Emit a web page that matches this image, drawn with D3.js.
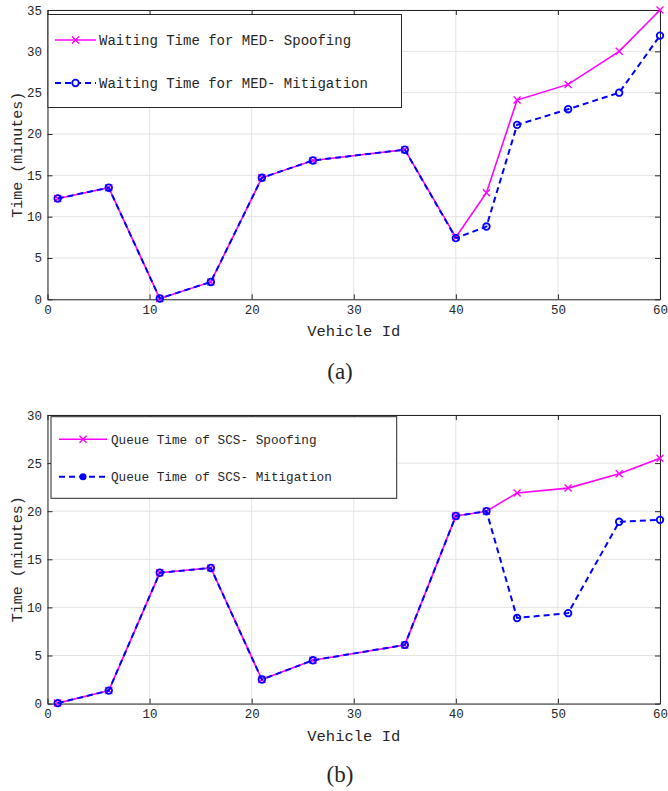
<!DOCTYPE html>
<html>
<head>
<meta charset="utf-8">
<script src="https://cdn.jsdelivr.net/npm/d3@7"></script>
<style>
  body { margin: 0; background: #fff; }
  text { font-family: "Liberation Mono", "DejaVu Sans Mono", monospace; fill: #262626; }
</style>
</head>
<body>
<div id="chart"></div>
<script>
// vehicle ids (shared x values)
const vehicleIds = [1, 6, 11, 16, 21, 26, 35, 40, 43, 46, 51, 56, 60];

// panel (a) waiting time
const waitSpoofing   = [12.2, 13.5, 0.1, 2.1, 14.7, 16.8, 18.1, 7.5, 12.9, 24.1, 26.0, 30.0, 35.0];
const waitMitigation = [12.2, 13.5, 0.1, 2.1, 14.7, 16.8, 18.1, 7.4, 8.8, 21.1, 23.0, 25.0, 31.9];

// panel (b) queue time
const queueSpoofing   = [0.05, 1.35, 13.6, 14.1, 2.5, 4.5, 6.1, 19.5, 20.0, 21.9, 22.4, 23.9, 25.5];
const queueMitigation = [0.05, 1.35, 13.6, 14.1, 2.5, 4.5, 6.1, 19.5, 20.0, 8.9, 9.4, 18.9, 19.1];

const xTicks = [0, 10, 20, 30, 40, 50, 60];
const yTicksA = [0, 5, 10, 15, 20, 25, 30, 35];
const yTicksB = [0, 5, 10, 15, 20, 25, 30];

const svg = d3.select("#chart").append("svg")
    .attr("width", 668)
    .attr("height", 791);

function panel(opt) {
    const x = d3.scaleLinear().domain([0, 60]).range([47.5, 660]);
    const y = d3.scaleLinear().domain([0, opt.yMax]).range([opt.bottom, opt.top]);
    const g = svg.append("g");

    // grid
    g.selectAll("line.gx").data(xTicks).enter().append("line")
        .attr("x1", d => x(d)).attr("x2", d => x(d))
        .attr("y1", opt.top).attr("y2", opt.bottom)
        .attr("stroke", "#e3e3e3").attr("stroke-width", 1);
    g.selectAll("line.gy").data(opt.yTicks).enter().append("line")
        .attr("x1", x(0)).attr("x2", x(60))
        .attr("y1", d => y(d)).attr("y2", d => y(d))
        .attr("stroke", "#e3e3e3").attr("stroke-width", 1);

    // axes (ticks pointing inward, box all round)
    const tk = -5;
    g.append("g").attr("transform", `translate(0,${opt.bottom})`)
        .call(d3.axisBottom(x).tickValues(xTicks).tickSizeInner(tk).tickSizeOuter(0).tickPadding(6));
    g.append("g").attr("transform", `translate(0,${opt.top})`)
        .call(d3.axisTop(x).tickValues(xTicks).tickSizeInner(tk).tickSizeOuter(0).tickFormat(""));
    g.append("g").attr("transform", `translate(${x(0)},0)`)
        .call(d3.axisLeft(y).tickValues(opt.yTicks).tickSizeInner(tk).tickSizeOuter(0).tickPadding(5.5));
    g.append("g").attr("transform", `translate(${x(60)},0)`)
        .call(d3.axisRight(y).tickValues(opt.yTicks).tickSizeInner(tk).tickSizeOuter(0).tickFormat(""));
    g.selectAll(".domain").attr("stroke", "#262626").attr("stroke-width", 1);
    g.selectAll(".tick line").attr("stroke", "#262626");
    g.selectAll(".tick text")
        .style("font-family", "'Liberation Mono', monospace")
        .style("font-size", "12.5px")
        .attr("fill", "#333");

    // axis labels
    g.append("text")
        .attr("x", (x(0) + x(60)) / 2).attr("y", opt.bottom + 37)
        .attr("text-anchor", "middle").style("font-size", "15.5px")
        .text("Vehicle Id");
    g.append("text")
        .attr("transform", `translate(22,${(opt.top + opt.bottom) / 2}) rotate(-90)`)
        .attr("text-anchor", "middle").style("font-size", "15px")
        .text("Time (minutes)");

    // lines
    const line = d3.line().x(d => x(d[0])).y(d => y(d[1]));
    const spoof = vehicleIds.map((v, i) => [v, opt.spoof[i]]);
    const mitig = vehicleIds.map((v, i) => [v, opt.mitig[i]]);

    g.append("path").datum(spoof).attr("d", line)
        .attr("fill", "none").attr("stroke", "#ff00ff").attr("stroke-width", 1.6);
    g.selectAll("path.xm").data(spoof).enter().append("path")
        .attr("d", "M-3.5,-3.5L3.5,3.5M-3.5,3.5L3.5,-3.5")
        .attr("transform", d => `translate(${x(d[0])},${y(d[1])})`)
        .attr("stroke", "#ff00ff").attr("stroke-width", 1.4);

    g.append("path").datum(mitig).attr("d", line)
        .attr("fill", "none").attr("stroke", "#0000ff").attr("stroke-width", 2)
        .attr("stroke-dasharray", "6,4");
    g.selectAll("circle.om").data(mitig).enter().append("circle")
        .attr("cx", d => x(d[0])).attr("cy", d => y(d[1]))
        .attr("r", 3.3)
        .attr("fill", "none").attr("stroke", "#0000ff").attr("stroke-width", 1.8);

    // legend
    const L = opt.legend;
    g.append("rect")
        .attr("x", L.x).attr("y", L.y).attr("width", L.w).attr("height", L.h)
        .attr("fill", "#fff").attr("stroke", "#262626").attr("stroke-width", 1);
    const rows = [
        { label: opt.labels[0], color: "#ff00ff", dash: null, marker: "x" },
        { label: opt.labels[1], color: "#0000ff", dash: "6,4", marker: "o" }
    ];
    rows.forEach((r, i) => {
        const ly = L.rowY[i];
        g.append("line")
            .attr("x1", L.lx1).attr("x2", L.lx2).attr("y1", ly).attr("y2", ly)
            .attr("stroke", r.color).attr("stroke-width", r.dash ? 2 : 1.6)
            .attr("stroke-dasharray", r.dash);
        const mx = (L.lx1 + L.lx2) / 2;
        if (r.marker === "x") {
            g.append("path")
                .attr("d", "M-3.5,-3.5L3.5,3.5M-3.5,3.5L3.5,-3.5")
                .attr("transform", `translate(${mx},${ly})`)
                .attr("stroke", r.color).attr("stroke-width", 1.4);
        } else {
            g.append("circle").attr("cx", mx).attr("cy", ly).attr("r", opt.legendFill ? 2.6 : 3.3)
                .attr("fill", opt.legendFill ? r.color : "#fff")
                .attr("stroke", r.color).attr("stroke-width", 1.8);
        }
        g.append("text")
            .attr("x", L.tx).attr("y", ly).attr("dy", "0.35em")
            .style("font-size", L.fs + "px")
            .text(r.label);
    });

    // caption
    svg.append("text")
        .attr("x", 340).attr("y", opt.capY)
        .attr("text-anchor", "middle")
        .style("font-family", "'Liberation Serif', 'Times New Roman', serif")
        .style("font-size", "23px")
        .attr("fill", "#000")
        .text(opt.caption);
}

panel({
    top: 10, bottom: 299.3, yMax: 35, yTicks: yTicksA,
    spoof: waitSpoofing, mitig: waitMitigation,
    labels: ["Waiting Time for MED- Spoofing", "Waiting Time for MED- Mitigation"],
    legend: { x: 48, y: 14.5, w: 353.5, h: 93, rowY: [40, 83], lx1: 55, lx2: 96, tx: 99, fs: 14 },
    legendFill: false,
    caption: "(a)", capY: 379
});

panel({
    top: 415, bottom: 703.6, yMax: 30, yTicks: yTicksB,
    spoof: queueSpoofing, mitig: queueMitigation,
    labels: ["Queue Time of SCS- Spoofing", "Queue Time of SCS- Mitigation"],
    legend: { x: 51, y: 416.7, w: 345.7, h: 81.6, rowY: [439.3, 476.7], lx1: 59, lx2: 107, tx: 111, fs: 12.7 },
    legendFill: true,
    caption: "(b)", capY: 782
});
</script>
</body>
</html>
